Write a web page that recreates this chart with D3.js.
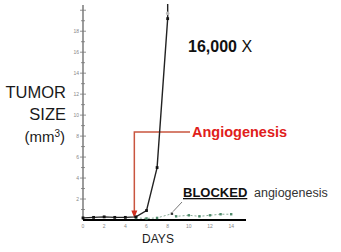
<!DOCTYPE html>
<html><head><meta charset="utf-8">
<script src="https://cdn.jsdelivr.net/npm/d3@7"></script>
<style>body{margin:0;background:#fff}svg{display:block}</style>
</head><body>
<script>
const growthDays = [0,1,2,3,4,5,6,7,8];
const growthValues = [0.2,0.25,0.3,0.25,0.25,0.3,0.9,5,19.2];
const growthArrowTop = 20.6;
const blockedDays = [5,6,7,8.4,8.8,10,11,12,13,14];
const blockedValues = [0.2,0.15,0.2,0.6,0.35,0.45,0.35,0.45,0.55,0.55];
const xTickLabels = [0,2,4,6,8,10,12,14];
const yTickLabels = [2,4,6,8,10,12,14,16,18];
const angioDay = 4.85, angioLevel = 8.4;

const W=341,H=252;
const svg=d3.select("body").append("svg").attr("width",W).attr("height",H);
const x=d3.scaleLinear().domain([0,15.4]).range([83,246]);
const y=d3.scaleLinear().domain([0,20.5]).range([220,5]);

// y axis
svg.append("line").attr("x1",x(0)).attr("x2",x(0)).attr("y1",y(20.5)).attr("y2",y(0)).attr("stroke","#666").attr("stroke-width",1.3);
d3.range(1,21).forEach(v=>{
  const major=v%2===0;
  svg.append("line").attr("x1",x(0)-(major?3:2)).attr("x2",x(0)+(major?3:2)).attr("y1",y(v)).attr("y2",y(v)).attr("stroke","#777").attr("stroke-width",0.8);
});
svg.selectAll(".yl").data(yTickLabels).enter().append("text")
 .attr("x",x(0)-4).attr("y",d=>y(d)+2).attr("text-anchor","end")
 .attr("font-family","Liberation Sans, Arial").attr("font-size",5).attr("fill","#888").text(d=>d);
// x axis
svg.append("line").attr("x1",x(0)).attr("x2",x(15.4)).attr("y1",y(0)).attr("y2",y(0)).attr("stroke","#000").attr("stroke-width",2);
svg.selectAll(".xl").data(xTickLabels).enter().append("text")
 .attr("x",d=>x(d)).attr("y",228).attr("text-anchor","middle")
 .attr("font-family","Liberation Sans, Arial").attr("font-size",5).attr("fill","#888").text(d=>d);

const ff="Liberation Sans, Arial, sans-serif";
// axis titles
[["TUMOR",98],["SIZE",120]].forEach(([t,yy])=>svg.append("text").attr("x",66).attr("y",yy).attr("text-anchor","end").attr("font-family",ff).attr("font-size",16.5).attr("fill","#1a1a1a").text(t));
const mm=svg.append("text").attr("x",65).attr("y",142).attr("text-anchor","end").attr("font-family",ff).attr("font-size",15).attr("fill","#1a1a1a");
mm.append("tspan").text("(mm");
mm.append("tspan").attr("font-size",10).attr("dy",-5).text("3");
mm.append("tspan").attr("dy",5).text(")");
svg.append("text").attr("x",158).attr("y",243).attr("text-anchor","middle").attr("font-family",ff).attr("font-size",12).attr("fill","#222").text("DAYS");

// red annotation
const red="#c9553f";
svg.append("path").attr("d",`M${x(angioDay)},${y(0.6)}V${y(angioLevel)}H190`).attr("fill","none").attr("stroke",red).attr("stroke-width",1.5);
svg.append("path").attr("d",`M${x(angioDay)-3},${y(0.9)}L${x(angioDay)+3},${y(0.9)}L${x(angioDay)},${y(0.2)}Z`).attr("fill","#d03020");
svg.append("text").attr("x",192).attr("y",y(angioLevel)+5.5).attr("font-family",ff).attr("font-weight","bold").attr("font-size",14.5).attr("fill","#e0201a").text("Angiogenesis");

// blocked series
const line=d3.line().x((d,i)=>x(d[0])).y(d=>y(d[1]));
const bData=blockedDays.map((d,i)=>[d,blockedValues[i]]);
svg.append("path").attr("d",line(bData)).attr("fill","none").attr("stroke","#7aa08a").attr("stroke-width",0.9).attr("stroke-dasharray","2,2");
svg.selectAll(".bp").data(bData).enter().append("rect").attr("x",d=>x(d[0])-1.2).attr("y",d=>y(d[1])-1.2).attr("width",2.4).attr("height",2.4).attr("fill",(d,i)=>i===3?"#333":"#4f8a6a");

// growth series
const gData=growthDays.map((d,i)=>[d,growthValues[i]]);
svg.append("path").attr("d",line(gData.concat([[8,growthArrowTop]]))).attr("fill","none").attr("stroke","#222").attr("stroke-width",1.4);
svg.selectAll(".gp").data(gData).enter().append("rect").attr("x",d=>x(d[0])-1.4).attr("y",d=>y(d[1])-1.4).attr("width",2.8).attr("height",2.8).attr("fill","#111");
svg.append("circle").attr("cx",x(8)).attr("cy",y(19.7)).attr("r",1.8).attr("fill","#bbb");

// leader to blocked
svg.append("line").attr("x1",182).attr("y1",202).attr("x2",x(8.4)+1).attr("y2",y(0.6)-2).attr("stroke","#555").attr("stroke-width",0.8);

// blocked label
svg.append("text").attr("x",183).attr("y",197).attr("font-family",ff).attr("font-weight","bold").attr("font-size",13).attr("fill","#111").attr("text-decoration","underline").text("BLOCKED");
svg.append("text").attr("x",254).attr("y",197).attr("font-family",ff).attr("font-size",12.5).attr("fill","#333").text("angiogenesis");

const t16=svg.append("text").attr("x",188).attr("y",52).attr("font-family",ff).attr("font-size",16).attr("fill","#111");
t16.append("tspan").attr("font-weight","bold").text("16,000 ");
t16.append("tspan").text("X");
</script>
</body></html>
